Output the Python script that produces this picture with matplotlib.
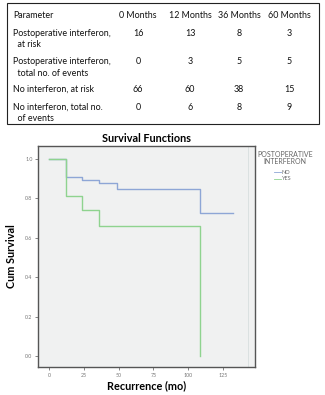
import numpy as np
import matplotlib.pyplot as plt
from matplotlib.patches import Rectangle

W, H = 325, 395

# table data
col_labels = ["Parameter", "0 Months", "12 Months", "36 Months", "60 Months"]
row_labels = ["Postoperative interferon,\n  at risk",
              "Postoperative interferon,\n  total no. of events",
              "No interferon, at risk",
              "No interferon, total no.\n  of events"]
row_values = [[16, 13, 8, 3],
              [0, 3, 5, 5],
              [66, 60, 38, 15],
              [0, 6, 8, 9]]

# Kaplan-Meier curves
no_t = [0, 12, 24, 36, 48.6, 108.5, 132]
no_s = [1.0, 0.907, 0.895, 0.878, 0.85, 0.724, 0.724]
yes_t = [0, 12, 24, 36, 108.5]
yes_s = [1.0, 0.81, 0.74, 0.66, 0.0]

plt.rcParams['font.family'] = ['Lato', 'DejaVu Sans']

fig = plt.figure(figsize=(W / 100, H / 100), dpi=100)

def fx(px):
    return px / W

def fy(py):
    return 1 - py / H

# table box
fig.patches.append(Rectangle((fx(7), fy(124)), fx(319) - fx(7), fy(3) - fy(124),
                             transform=fig.transFigure, fill=False,
                             edgecolor='#222222', linewidth=0.8))
col_x = [13, 138, 190, 239, 289]
row_y = [33, 62, 89, 107]
fs = 6.4
fig.text(fx(col_x[0]), fy(15), col_labels[0], fontsize=fs, va='center', ha='left',
         color='#111111')
for x, lab in zip(col_x[1:], col_labels[1:]):
    fig.text(fx(x), fy(15), lab, fontsize=fs, va='center', ha='center', color='#111111')
for y, lab, vals in zip(row_y, row_labels, row_values):
    fig.text(fx(col_x[0]), fy(y - 4.5), lab, fontsize=fs, va='top', ha='left',
             linespacing=1.3, color='#111111')
    for x, v in zip(col_x[1:], vals):
        fig.text(fx(x), fy(y), str(v), fontsize=fs, va='center', ha='center',
                 color='#111111')

# survival plot
ax = fig.add_axes([fx(38), fy(367), fx(255) - fx(38), fy(146) - fy(367)])
ax.set_facecolor('#f0f1f1')
ax.step(no_t, no_s, where='post', color='#8ea6d6', linewidth=1.0)
ax.step(yes_t, yes_s, where='post', color='#8fd38f', linewidth=1.0)
ax.axvline(143, color='#d8dede', linewidth=0.6)
ax.set_xlim(-7.9, 148)
ax.set_ylim(-0.056, 1.066)
ax.set_xticks([0, 25, 50, 75, 100, 125])
ax.set_yticks([0.0, 0.2, 0.4, 0.6, 0.8, 1.0])
ax.set_yticklabels(['0.0', '0.2', '0.4', '0.6', '0.8', '1.0'])
ax.tick_params(labelsize=3.8, labelcolor='#777777', length=2, width=0.5,
               color='#555555', pad=2)
for s in ax.spines.values():
    s.set_color('#555555')
    s.set_linewidth(1.0)
ax.set_title('Survival Functions', fontsize=7.8, fontweight='bold', pad=3)
ax.set_xlabel('Recurrence (mo)', fontsize=7.8, fontweight='bold', labelpad=2)
ax.set_ylabel('Cum Survival', fontsize=7.8, fontweight='bold', labelpad=6)

# legend
fig.text(fx(285), fy(158), 'POSTOPERATIVE\nINTERFERON', fontsize=5,
         color='#666666', ha='center', va='center', linespacing=1.0)
fig.add_artist(plt.Line2D([fx(274), fx(281)], [fy(172), fy(172)], color='#8ea6d6', lw=0.6))
fig.add_artist(plt.Line2D([fx(274), fx(281)], [fy(179), fy(179)], color='#8fd38f', lw=0.6))
fig.text(fx(282), fy(172), 'NO', fontsize=4, color='#666666', va='center')
fig.text(fx(282), fy(179), 'YES', fontsize=4, color='#666666', va='center')

fig.savefig('out.png', dpi=100)
